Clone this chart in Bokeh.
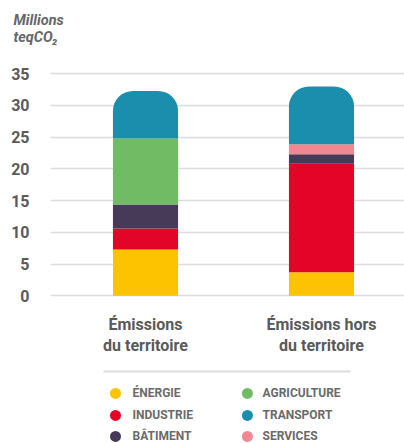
from bokeh.plotting import figure
from bokeh.models import Range1d, FixedTicker, Title, ColumnDataSource
from bokeh.core.properties import value
from bokeh.embed import file_html
from bokeh.resources import INLINE

# Emissions in millions of tonnes CO2-equivalent
categories = ["Émissions\ndu territoire", "Émissions hors\ndu territoire"]
sectors = ["ÉNERGIE", "INDUSTRIE", "BÂTIMENT", "AGRICULTURE", "SERVICES", "TRANSPORT"]
energie = [7.3, 3.7]
industrie = [3.3, 17.1]
batiment = [3.8, 1.5]
agriculture = [10.4, 0.0]
services = [0.0, 1.6]
transport = [7.5, 9.1]
colors = ["#FDC300", "#E30427", "#463A58", "#72BB65", "#F08791", "#1B8EAD"]
y_ticks = [0, 5, 10, 15, 20, 25, 30, 35]
unit_label = "Millions\nteqCO₂"

# legend order: two columns of three
legend_order = ["ÉNERGIE", "INDUSTRIE", "BÂTIMENT", "AGRICULTURE", "TRANSPORT", "SERVICES"]

GREY = "#5a5a5a"
FONT = "Roboto"

p = figure(width=404, height=443, output_backend="svg", toolbar_location=None,
           x_range=Range1d(0.4602, 2.4716), y_range=Range1d(-23.29, 38.67),
           min_border_left=50, min_border_right=0, min_border_top=50, min_border_bottom=0)
p.title = Title(text=unit_label, align="left", offset=-37, standoff=10,
                text_font=FONT, text_font_style="bold italic",
                text_font_size="14.5px", text_color="#666666")
p.outline_line_color = None
p.xaxis.visible = False
p.xgrid.visible = False

p.yaxis.ticker = FixedTicker(ticks=y_ticks)
p.yaxis.axis_line_color = None
p.yaxis.major_tick_line_color = None
p.yaxis.minor_tick_line_color = None
p.yaxis.major_label_standoff = 15
p.yaxis.major_label_text_font = FONT
p.yaxis.major_label_text_font_style = "bold"
p.yaxis.major_label_text_font_size = "16px"
p.yaxis.major_label_text_color = GREY
p.ygrid.ticker = FixedTicker(ticks=y_ticks)
p.ygrid.grid_line_color = "#dcdcdc"
p.ygrid.grid_line_width = 1.5

xs = [i + 1 for i in range(len(categories))]
series = [energie, industrie, batiment, agriculture, services, transport]
bottoms = [0.0] * len(categories)
bar_w = 0.37
for name, vals, col in zip(sectors, series, colors):
    tops = [b + v for b, v in zip(bottoms, vals)]
    src = ColumnDataSource(dict(x=xs, bottom=bottoms, top=tops))
    kw = {}
    if name == "TRANSPORT":
        kw["border_radius"] = (20, 20, 0, 0)
    p.vbar(x="x", bottom="bottom", top="top", width=bar_w, source=src,
           fill_color=col, line_color=None, **kw)
    bottoms = tops

# category labels below the bars
p.text(x=xs, y=[-3.0] * len(xs), text=categories, text_align="center",
       text_baseline="top", text_font=value(FONT), text_font_style="bold",
       text_font_size="16px", text_color=GREY, text_line_height=1.1)

# legend separator
p.segment(x0=[0.761], y0=[-11.93], x1=[2.165], y1=[-11.93],
          line_color="#dcdcdc", line_width=2)

# legend entries in two columns
col_dot_x = [0.8295, 1.579]
col_txt_x = [0.926, 1.665]
row_y = [-15.40, -18.87, -22.18]
color_of = dict(zip(sectors, colors))
lx, ly, tx, lc, lt = [], [], [], [], []
for i, name in enumerate(legend_order):
    c, r = divmod(i, 3)
    lx.append(col_dot_x[c]); tx.append(col_txt_x[c]); ly.append(row_y[r])
    lc.append(color_of[name]); lt.append(name)
p.scatter(x=lx, y=ly, size=11, fill_color=lc, line_color=None)
p.text(x=tx, y=ly, text=lt, text_baseline="middle", text_font=value(FONT),
       text_font_style="bold", text_font_size="12px", text_color="#6a6a6a")

open("out.html", "w").write(file_html(p, INLINE))
